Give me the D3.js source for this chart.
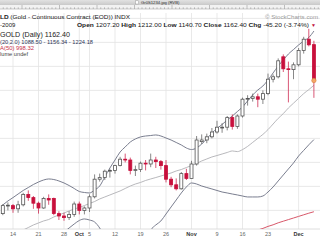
<!DOCTYPE html>
<html><head><meta charset="utf-8">
<script src="https://cdn.jsdelivr.net/npm/d3@7"></script>
<style>html,body{margin:0;padding:0;background:#fff;overflow:hidden}svg{display:block;font-family:"Liberation Sans",Arial,sans-serif}</style>
</head><body>
<svg id="c" width="320" height="240"></svg>
<script>
const dates = ["2009-09-10","2009-09-11","2009-09-14","2009-09-15","2009-09-16","2009-09-17","2009-09-18","2009-09-21","2009-09-22","2009-09-23","2009-09-24","2009-09-25","2009-09-28","2009-09-29","2009-09-30","2009-10-01","2009-10-02","2009-10-05","2009-10-06","2009-10-07","2009-10-08","2009-10-09","2009-10-12","2009-10-13","2009-10-14","2009-10-15","2009-10-16","2009-10-19","2009-10-20","2009-10-21","2009-10-22","2009-10-23","2009-10-26","2009-10-27","2009-10-28","2009-10-29","2009-10-30","2009-11-02","2009-11-03","2009-11-04","2009-11-05","2009-11-06","2009-11-09","2009-11-10","2009-11-11","2009-11-12","2009-11-13","2009-11-16","2009-11-17","2009-11-18","2009-11-19","2009-11-20","2009-11-23","2009-11-24","2009-11-25","2009-11-26","2009-11-27","2009-11-30","2009-12-01","2009-12-02","2009-12-03","2009-12-04"];
const open  = [996,1006,1006,1002,1007,1020,1016,1009,1003,1015,1015,996,993,991,995,1008,1000,1003,1017,1039,1041,1049,1050,1056,1064,1063,1050,1051,1059,1058,1063,1061,1056,1039,1032,1027,1046,1040,1058,1086,1088,1092,1098,1104,1104,1116,1105,1118,1139,1140,1142,1139,1146,1164,1167,1192,1177,1176,1182,1200,1214,1207.2];
const high  = [1008,1010,1008,1012,1022,1025,1018,1011,1017,1020,1016,999,997,999,1011,1011,1005,1020,1045,1046,1051,1052,1057,1067,1071,1066,1056,1061,1063,1071,1067,1063,1063,1042,1040,1048,1052,1062,1093,1095,1096,1103,1112,1109,1118,1120,1120,1141,1144,1146,1146,1150,1171,1170,1190,1195,1186,1185,1203,1217,1227,1212];
const low   = [994,1000,997,997,1005,1012,1002,996,1002,1007,994,988,987,988,992,995,995,998,1015,1036,1038,1041,1046,1055,1060,1045,1043,1048,1050,1054,1053,1051,1035,1029,1025,1026,1038,1040,1056,1083,1084,1090,1096,1097,1100,1101,1102,1116,1131,1136,1129,1133,1144,1160,1165,1173,1135,1164,1180,1196,1205,1140.7];
const close = [1006,1006.5,1002,1007,1020,1016,1009,1003,1015,1013,996,993,991,995,1008,1000,1003,1017,1039,1041,1049,1050,1056,1064,1063,1050,1051,1059,1058,1063,1061,1056,1039,1032,1027,1046,1040,1058,1088,1088,1092,1098,1104,1104,1116,1105,1118,1139,1140,1142,1139,1146,1164,1167,1187,1177,1176,1182,1200,1214,1207,1162.4];
const bbUpper = [1006.8,1011.8,1016,1020.5,1024.9,1028.6,1032.4,1035.5,1038,1039.3,1038.6,1036.8,1034.3,1031.1,1027.4,1023.6,1022.4,1021.8,1025.5,1030.5,1041.8,1053,1063,1073,1079.3,1085.5,1089.3,1091.8,1093,1093.6,1094.3,1093,1090.5,1088,1084.9,1081.8,1078,1076.1,1078,1083,1089.3,1096.8,1102.4,1107.4,1113,1118,1123.6,1129.3,1136.8,1144.3,1150.5,1155.5,1163,1171.8,1180.5,1188,1195.5,1201.1,1206.8,1211.8,1216.1,1224.18];
const bbMiddle = [965.5,968,970.5,973,975.5,978.6,981.8,984.3,986.8,988.6,991.8,994.3,996.8,999.3,1001.8,1003.6,1006.1,1008.6,1011.1,1014.3,1016.8,1019.3,1021.8,1024.3,1027.4,1030.5,1033,1034.9,1037.4,1039.3,1041.1,1043,1044.9,1046.8,1049.3,1051.1,1053.6,1056.1,1058.6,1061.8,1064.3,1066.8,1068.6,1070.5,1072.4,1074.3,1073.5,1076,1080,1085,1090,1095,1101,1108,1115,1121,1128,1134,1140,1146,1151,1156.34];
const bbLower = [928,931.8,935.5,939.3,941.8,945.5,949.3,951.8,954.3,956.8,963,968,973,978,983,987.4,989.3,988,985.5,978,966.8,956.8,946.8,938,934.3,933,940.5,950.5,963,975.5,981.8,986.8,995.5,1004.3,1013,1021.8,1029.3,1034.3,1033,1030.5,1028.6,1026.8,1024.9,1023,1021.8,1020.5,1019.3,1018,1016.8,1016.8,1016.8,1018,1023,1029.3,1036.8,1044.3,1051.8,1059.3,1068,1075,1082,1088.5];
const ma = [null,null,null,null,null,null,null,null,null,null,null,null,null,null,null,null,null,null,null,null,null,null,null,null,null,null,null,null,null,null,null,null,null,null,null,null,null,null,null,null,null,null,null,null,null,null,967,969.5,971.5,973.5,975.5,977.5,980,982,984.5,986.5,988.5,990.5,992.5,994.5,996.5,998.32];
const gridPrices = [1240,1210,1180,1150,1120,1090,1060,1030,1000];
const tickDates = ["2009-09-14","2009-09-21","2009-09-28","2009-10-01","2009-10-05","2009-10-12","2009-10-19","2009-10-26","2009-11-02","2009-11-09","2009-11-16","2009-11-23","2009-12-01"];
const tickLabels = ["14","21","28","Oct","5","12","19","26","Nov","9","16","23","Dec"];
const monthLabels = ["Oct","Nov","Dec"];

const svg = d3.select("#c");
const W = 320, H = 240;
const x = d3.scalePoint().domain(dates).range([2.8, 313.9]);
const y = d3.scaleLinear().domain([1263, 973]).range([0, 232]);
const plotTop = 13, plotBottom = 229;

// title bar
const g0 = svg.append("defs").append("linearGradient").attr("id","tb").attr("x1",0).attr("x2",0).attr("y1",0).attr("y2",1);
g0.append("stop").attr("offset",0).attr("stop-color","#e2e2e2");
g0.append("stop").attr("offset",1).attr("stop-color","#c9c9c9");
svg.append("rect").attr("x",0).attr("y",0).attr("width",W).attr("height",5).attr("fill","url(#tb)");
svg.append("rect").attr("x",135.5).attr("y",0.8).attr("width",3.2).attr("height",3.2).attr("fill","#fff").attr("stroke","#999").attr("stroke-width",0.5);
svg.append("text").attr("x",141).attr("y",4.3).attr("font-size",4.2).attr("fill","#333").text("Gr0S1234.jpg (RVB)");
// ruler
svg.append("rect").attr("x",0).attr("y",5).attr("width",W).attr("height",4).attr("fill","#f2f2f2");
svg.append("line").attr("x1",0).attr("x2",W).attr("y1",9).attr("y2",9).attr("stroke","#aaa").attr("stroke-width",0.6);
const rs = d3.scaleLinear().domain([0, 90]).range([-15.5, 322]);
d3.range(0, 91).forEach(k => {
  const major = k % 10 === 0;
  svg.append("line").attr("x1",rs(k)).attr("x2",rs(k)).attr("y1", major ? 5 : 7.3).attr("y2",9).attr("stroke","#888").attr("stroke-width",0.5);
});

// grid
const grid = svg.append("g");
grid.selectAll("line.h").data(gridPrices).enter().append("line")
  .attr("x1",0).attr("x2",W).attr("y1",d=>y(d)).attr("y2",d=>y(d))
  .attr("stroke","#e3e3e3").attr("stroke-width",0.8);
grid.selectAll("line.v").data(tickDates).enter().append("line")
  .attr("x1",d=>x(d)).attr("x2",d=>x(d)).attr("y1",plotTop).attr("y2",plotBottom)
  .attr("stroke","#e3e3e3").attr("stroke-width",0.8);
svg.append("line").attr("x1",0).attr("x2",W).attr("y1",plotBottom).attr("y2",plotBottom).attr("stroke","#d5d5d5").attr("stroke-width",0.8);

// header texts
const hdr = svg.append("g").attr("fill","#222");
hdr.append("text").attr("x",0).attr("y",19).attr("font-size",6).attr("textLength",130).attr("lengthAdjust","spacingAndGlyphs")
  .html('<tspan font-weight="bold">LD</tspan> (Gold - Continuous Contract (EOD)) INDX');
hdr.append("text").attr("x",265).attr("y",19).attr("font-size",5.8).attr("fill","#9a9a9a").attr("textLength",53).attr("lengthAdjust","spacingAndGlyphs").text("© StockCharts.com");
hdr.append("text").attr("x",0).attr("y",27).attr("font-size",6).text("-2009");
hdr.append("text").attr("x",77).attr("y",27).attr("font-size",6.2).attr("textLength",232).attr("lengthAdjust","spacingAndGlyphs")
  .html('<tspan font-weight="bold">Open</tspan> 1207.20 <tspan font-weight="bold">High</tspan> 1212.00 <tspan font-weight="bold">Low</tspan> 1140.70 <tspan font-weight="bold">Close</tspan> 1162.40 <tspan font-weight="bold">Chg</tspan> -45.20 (-3.74%)');
hdr.append("text").attr("x",311).attr("y",27).attr("font-size",5).attr("fill","#c0103a").text("▼");
hdr.append("text").attr("x",0).attr("y",36.5).attr("font-size",7).attr("textLength",70).attr("lengthAdjust","spacingAndGlyphs").text("GOLD (Daily) 1162.40");
hdr.append("text").attr("x",0).attr("y",43.5).attr("font-size",5.5).attr("fill","#2e3558").attr("textLength",93).attr("lengthAdjust","spacingAndGlyphs").text("(20,2.0) 1088.50 - 1156.34 - 1224.18");
hdr.append("text").attr("x",0).attr("y",50).attr("font-size",5.5).attr("fill","#c8304a").attr("textLength",34).attr("lengthAdjust","spacingAndGlyphs").text("A(50) 998.32");
hdr.append("text").attr("x",0).attr("y",56).attr("font-size",5.5).attr("fill","#444").attr("textLength",28).attr("lengthAdjust","spacingAndGlyphs").text("lume undef");

// clip
svg.append("clipPath").attr("id","pc").append("rect").attr("x",0).attr("y",plotTop).attr("width",W).attr("height",plotBottom-plotTop);
const plot = svg.append("g").attr("clip-path","url(#pc)");
const idx = d3.range(dates.length);
const lineOf = arr => d3.line().defined(i => arr[i] != null).x(i => x(dates[i])).y(i => y(arr[i])).curve(d3.curveMonotoneX);
plot.append("path").attr("d", lineOf(ma)(idx)).attr("fill","none").attr("stroke","#d8586a").attr("stroke-width",1);
plot.append("path").attr("d", lineOf(bbMiddle)(idx)).attr("fill","none").attr("stroke","#b0b0b4").attr("stroke-width",0.9);
plot.append("path").attr("d", lineOf(bbUpper)(idx)).attr("fill","none").attr("stroke","#7a7e8f").attr("stroke-width",1);
plot.append("path").attr("d", lineOf(bbLower)(idx)).attr("fill","none").attr("stroke","#7a7e8f").attr("stroke-width",1);

// candles
const red = "#c8103c", dark = "#555";
const cg = plot.append("g");
idx.forEach(i => {
  const prev = i > 0 ? close[i-1] : open[i];
  const col = close[i] < prev ? red : dark;
  const cx = x(dates[i]);
  cg.append("line").attr("x1",cx).attr("x2",cx).attr("y1",y(high[i])).attr("y2",y(low[i])).attr("stroke",col).attr("stroke-width",0.7);
  const top = y(Math.max(open[i], close[i])), bot = y(Math.min(open[i], close[i]));
  cg.append("rect").attr("x",cx-1.5).attr("y",top).attr("width",3).attr("height",Math.max(0.8, bot-top))
    .attr("fill", close[i] < open[i] ? col : "#fff").attr("stroke",col).attr("stroke-width",0.8);
});
const li = dates.length - 1;
plot.append("circle").attr("cx",x(dates[li])).attr("cy",y(close[li])).attr("r",2.2).attr("fill","#f5a766").attr("stroke","#d77f40").attr("stroke-width",0.6);

// x axis labels
svg.selectAll("text.xl").data(tickDates).enter().append("text")
  .attr("x",d=>x(d)).attr("y",236).attr("text-anchor","middle").attr("font-size",5.5)
  .attr("font-weight",(d,i)=>monthLabels.includes(tickLabels[i])?"bold":"normal")
  .attr("fill",(d,i)=>monthLabels.includes(tickLabels[i])?"#333":"#666")
  .text((d,i)=>tickLabels[i]);
</script>
</body></html>
